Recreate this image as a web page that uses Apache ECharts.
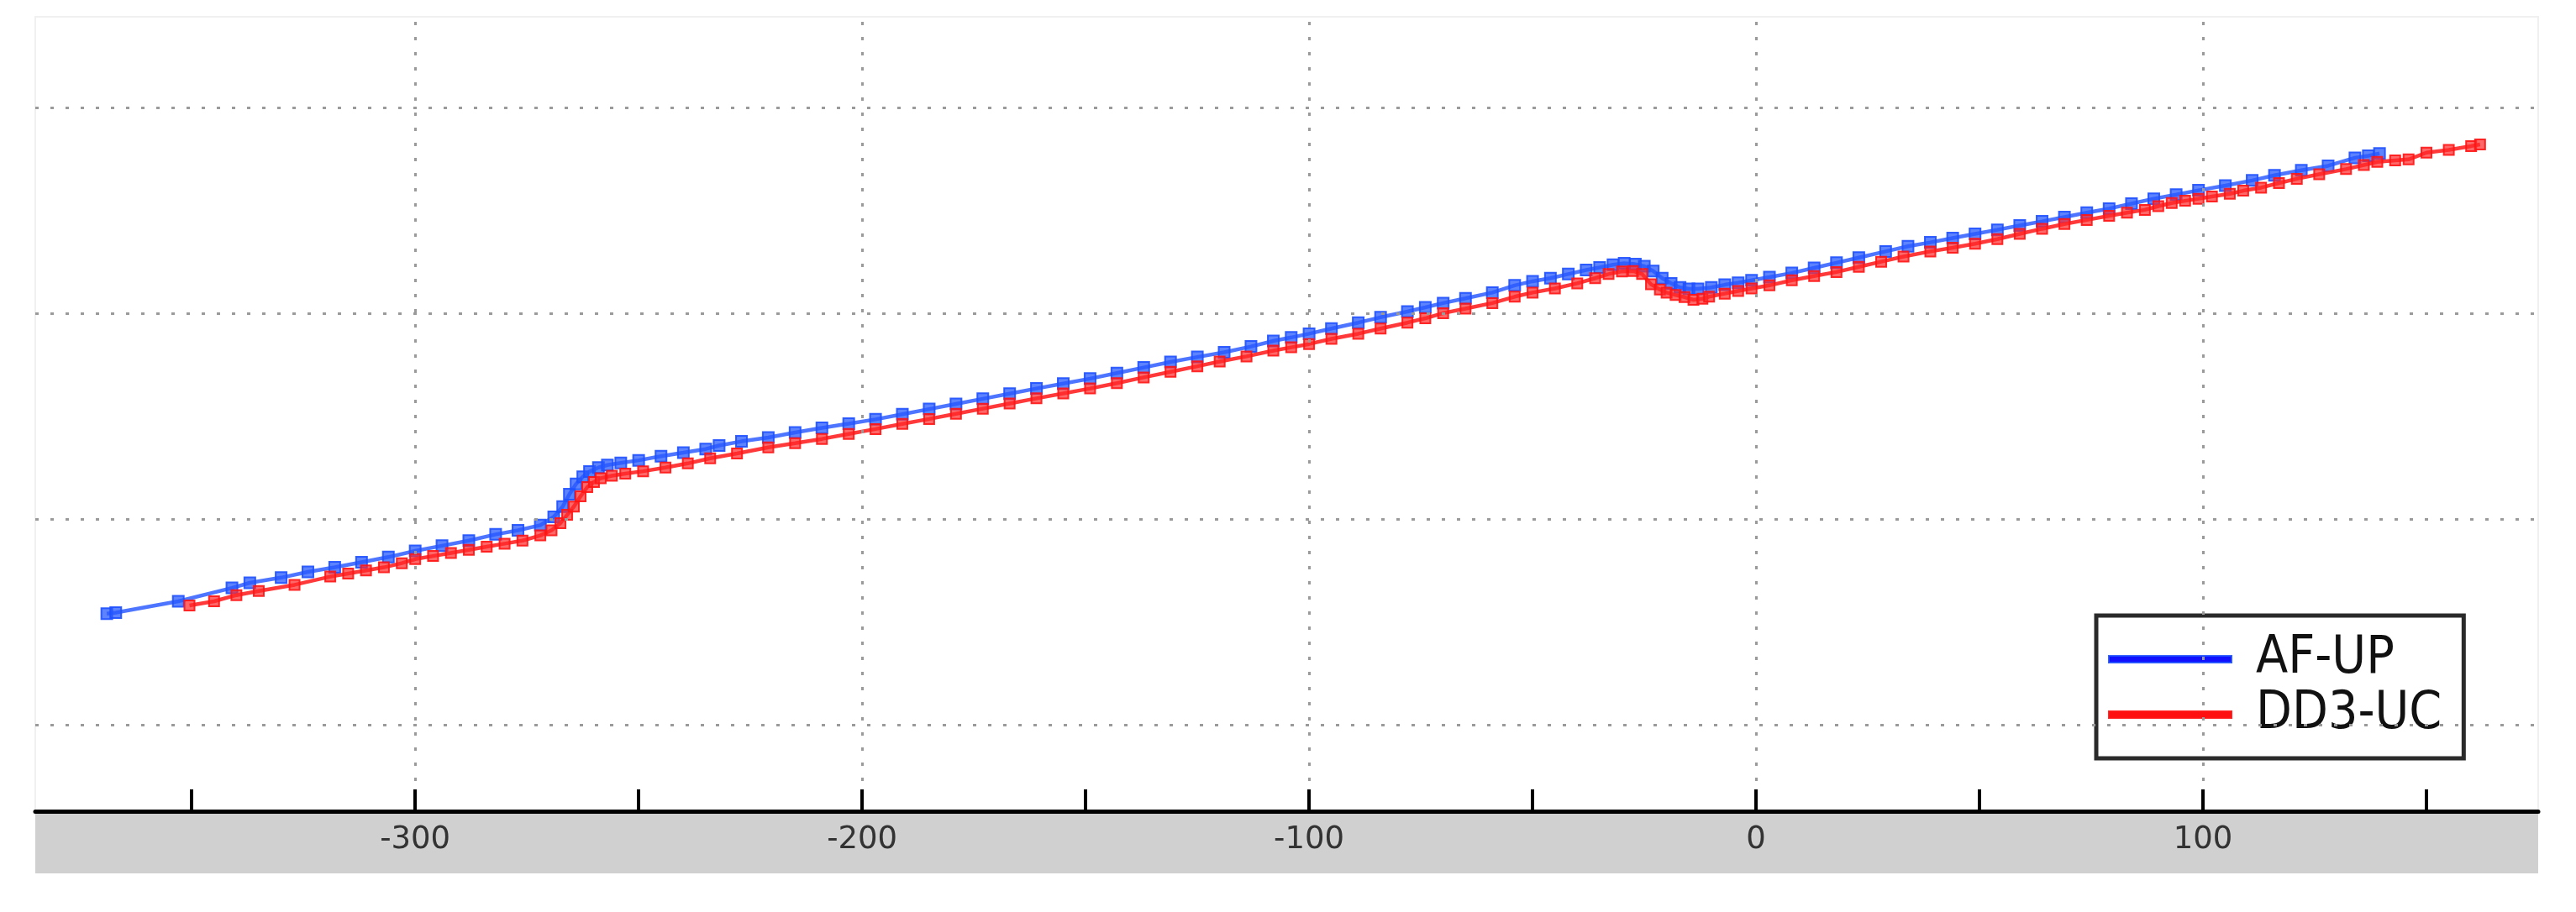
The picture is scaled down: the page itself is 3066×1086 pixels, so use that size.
<!DOCTYPE html>
<html>
<head>
<meta charset="utf-8">
<script src="https://cdn.jsdelivr.net/npm/echarts@6/dist/echarts.min.js"></script>
<style>
html,body{margin:0;padding:0;background:#fff;}
#chart{width:3066px;height:1086px;}
</style>
</head>
<body>
<div id="chart"></div>
<script>
// ---- data ----
const afUpX = [-369,-367,-353,-341,-337,-330,-324,-318,-312,-306,-300,-294,-288,-282,-277,-272,-269,-267,-265.5,-264,-262.5,-261,-259,-257,-254,-250,-245,-240,-235,-232,-227,-221,-215,-209,-203,-197,-191,-185,-179,-173,-167,-161,-155,-149,-143,-137,-131,-125,-119,-113,-108,-104,-100,-95,-89,-84,-78,-74,-70,-65,-59,-54,-50,-46,-42,-38,-35,-32,-29.5,-27,-25,-23,-21,-19,-17,-15,-13,-10,-7,-4,-1,3,8,13,18,23,29,34,39,44,49,54,59,64,69,74,79,84,89,94,99,105,111,116,122,128,134,137,139.5];
const afUpY = [0.54,0.545,0.60,0.665,0.69,0.715,0.743,0.765,0.79,0.815,0.845,0.87,0.895,0.925,0.945,0.97,1.01,1.06,1.12,1.17,1.205,1.23,1.25,1.262,1.272,1.285,1.305,1.322,1.34,1.357,1.377,1.396,1.42,1.443,1.463,1.484,1.509,1.534,1.559,1.584,1.609,1.634,1.658,1.682,1.709,1.736,1.763,1.787,1.81,1.838,1.865,1.882,1.90,1.925,1.954,1.98,2.008,2.028,2.049,2.072,2.10,2.135,2.155,2.17,2.19,2.21,2.222,2.235,2.242,2.238,2.228,2.205,2.17,2.145,2.125,2.118,2.118,2.125,2.138,2.148,2.16,2.175,2.195,2.22,2.245,2.27,2.30,2.325,2.344,2.365,2.385,2.405,2.426,2.446,2.467,2.488,2.508,2.532,2.556,2.576,2.597,2.62,2.645,2.67,2.694,2.716,2.755,2.765,2.776];

const dd3X = [-350.5,-345,-340,-335,-327,-319,-315,-311,-307,-303,-300,-296,-292,-288,-284,-280,-276,-272,-269.5,-267.5,-266,-264.5,-263,-261.5,-260,-258.5,-256,-253,-249,-244,-239,-234,-228,-221,-215,-209,-203,-197,-191,-185,-179,-173,-167,-161,-155,-149,-143,-137,-131,-125,-120,-114,-108,-104,-100,-95,-89,-84,-78,-74,-70,-65,-59,-54,-50,-45,-40,-36,-33,-30,-27.5,-25.5,-23.5,-21.5,-20,-18,-16,-14,-12,-10.5,-7,-4,-1,3,8,13,18,23,28,33,39,44,49,54,59,64,69,74,79,83,87,90,93,96,99,102,106,109,113,117,121,126,132,136,139,143,146,150,155,160,162];
const dd3Y = [0.58,0.60,0.63,0.65,0.68,0.72,0.735,0.75,0.765,0.785,0.805,0.82,0.835,0.85,0.865,0.88,0.895,0.92,0.945,0.98,1.02,1.06,1.11,1.155,1.18,1.198,1.21,1.22,1.232,1.25,1.27,1.295,1.318,1.348,1.368,1.389,1.413,1.437,1.462,1.486,1.511,1.536,1.561,1.586,1.61,1.634,1.66,1.688,1.715,1.742,1.765,1.79,1.818,1.834,1.85,1.875,1.90,1.925,1.954,1.975,2.00,2.022,2.049,2.08,2.10,2.12,2.145,2.17,2.19,2.203,2.205,2.19,2.14,2.115,2.10,2.088,2.078,2.065,2.07,2.08,2.095,2.108,2.12,2.135,2.16,2.18,2.20,2.225,2.25,2.275,2.30,2.318,2.337,2.36,2.385,2.41,2.433,2.453,2.473,2.488,2.502,2.52,2.535,2.546,2.556,2.567,2.58,2.595,2.61,2.632,2.653,2.675,2.70,2.72,2.735,2.742,2.747,2.78,2.793,2.812,2.82];

const xTickValues = [-350,-300,-250,-200,-150,-100,-50,0,50,100,150];
const xLabelValues = [-300,-200,-100,0,100];
const yGridValues = [0,1,2,3];
const seriesNames = ['AF-UP','DD3-UC'];

const zip = (xs, ys) => xs.map((x, i) => [x, ys[i]]);

const chart = echarts.init(document.getElementById('chart'));
const gridLineStyle = {color:'#9a9a9a', width:3, type:[4,14]};

chart.setOption({
  animation:false,
  backgroundColor:'#ffffff',
  grid:[
    {left:42, right:45, top:20, bottom:120, show:true, borderColor:'#f0f0f0', borderWidth:2, backgroundColor:'#ffffff'},
    {left:42, right:45, top:969, height:71, show:true, borderWidth:0, backgroundColor:'#d0d0d0'}
  ],
  xAxis:[
    {type:'value', gridIndex:0, min:-385, max:175, z:10,
     axisLine:{show:true, onZero:false, lineStyle:{color:'#000', width:5}},
     axisTick:{show:true, inside:true, length:26, customValues:xTickValues, lineStyle:{color:'#000', width:4}},
     axisLabel:{show:true, customValues:xLabelValues, fontSize:37, color:'#333', margin:16, fontFamily:'DejaVu Sans'},
     splitLine:{show:false}},
    {type:'value', gridIndex:1, show:false, min:0, max:1}
  ],
  yAxis:[
    {type:'value', gridIndex:0, min:-0.42, max:3.44, show:false, splitLine:{show:false}},
    {type:'value', gridIndex:1, show:false, min:0, max:1}
  ],
  legend:{
    orient:'vertical', left:2495, top:733,
    data:[
      {name:seriesNames[0], icon:'rect', itemStyle:{color:'#1010ff'}},
      {name:seriesNames[1], icon:'rect', itemStyle:{color:'#ff1010'}}
    ],
    itemWidth:146, itemHeight:8, itemGap:4,
    padding:[21,26,21,14],
    backgroundColor:'#ffffff', borderColor:'#2a2a2a', borderWidth:5, borderRadius:0,
    textStyle:{fontSize:62, lineHeight:58, color:'#111', fontFamily:"'DejaVu Sans Condensed', 'DejaVu Sans'", padding:[0,0,0,24]}
  },
  series:[
    {name:'grid', type:'line', xAxisIndex:0, yAxisIndex:0, data:[], z:1, silent:true,
     markLine:{silent:true, symbol:['none','none'], label:{show:false}, lineStyle:gridLineStyle, animation:false,
       data: yGridValues.map(v => ({yAxis:v})).concat(xLabelValues.map(v => ({xAxis:v})))}},
    {name:seriesNames[0], type:'line', xAxisIndex:0, yAxisIndex:0, z:3,
     data:zip(afUpX, afUpY), symbol:'rect', symbolSize:13, showSymbol:true,
     lineStyle:{color:'#3a66ff', width:4.5, opacity:0.9},
     itemStyle:{color:'rgba(40,90,255,0.75)', borderColor:'rgba(30,80,255,0.9)', borderWidth:2}},
    {name:seriesNames[1], type:'line', xAxisIndex:0, yAxisIndex:0, z:4,
     data:zip(dd3X, dd3Y), symbol:'rect', symbolSize:12, showSymbol:true,
     lineStyle:{color:'#ff2424', width:4.5, opacity:0.9},
     itemStyle:{color:'rgba(255,40,40,0.7)', borderColor:'rgba(255,20,20,0.9)', borderWidth:2}}
  ]
});
</script>
</body>
</html>
